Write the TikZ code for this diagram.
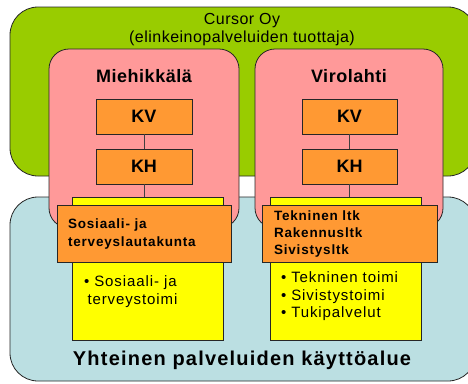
\documentclass[tikz,border=0pt]{standalone}
\usepackage{fontspec}
\setmainfont{Liberation Sans}
\newfontfamily\spaced[LetterSpace=6]{Liberation Sans}
\newfontfamily\lightspaced[LetterSpace=3]{Liberation Sans}
\definecolor{cursorgreen}{HTML}{99CC00}
\definecolor{kuntapink}{HTML}{FF9999}
\definecolor{alueblue}{HTML}{BBDFE2}
\definecolor{lautaorange}{HTML}{FF9933}
\definecolor{toimiyellow}{HTML}{FFFF00}
\begin{document}
\begin{tikzpicture}[x=1pt,y=-1pt,
  every node/.style={outer sep=0pt, inner sep=0pt},
  area/.style={draw=black!85, line width=0.8pt, rounded corners=28pt},
  kunta/.style={draw=black!85, line width=0.8pt, rounded corners=20pt, fill=kuntapink, minimum width=190pt, minimum height=179pt},
  organ/.style={draw=black!85, line width=0.8pt, fill=lautaorange, minimum width=96pt, minimum height=35pt, font=\fontsize{18}{20}\selectfont\bfseries},
  lauta/.style={draw=black!85, line width=0.8pt, fill=lautaorange, minimum width=175pt, minimum height=57pt},
  toimi/.style={draw=black!85, line width=0.8pt, fill=toimiyellow, minimum width=151pt, minimum height=143pt},
  link/.style={draw=black!75, line width=0.8pt}]
\clip (0,0) rectangle (468,383);
\useasboundingbox (0,0) rectangle (468,383);
% Background areas
\node[area, fill=cursorgreen, minimum width=466pt, minimum height=169pt] (cursor) at (243,91.5) {};
\node[area, fill=alueblue, minimum width=466pt, minimum height=184pt] (alue) at (243,289) {};
\node[font=\fontsize{16}{17}\selectfont\lightspaced] (cursortitle) at (242,21) {Cursor Oy};
\node[font=\fontsize{16}{17}\selectfont\lightspaced] (cursorsub) at (242,38) {(elinkeinopalveluiden tuottaja)};

% Municipalities
\node[kunta] (miehikkala) at (144,138.5) {};
\node[kunta, minimum width=188pt] (virolahti) at (349,138.5) {};
\node[font=\fontsize{18}{20}\selectfont\bfseries\lightspaced] (miehikkalatitle) at (144,76) {Miehikkälä};
\node[font=\fontsize{18}{20}\selectfont\bfseries\lightspaced] (virolahtititle) at (349,76) {Virolahti};

% Councils left and right
\node[organ] (kv1) at (144,116.5) {KV};
\node[organ] (kh1) at (144,166.5) {KH};
\node[organ, minimum width=95pt] (kv2) at (349.5,116.5) {KV};
\node[organ, minimum width=95pt] (kh2) at (349.5,166.5) {KH};

% Services
\node[toimi] (toimi1) at (147.5,268.5) {};
\node[toimi] (toimi2) at (345.5,268.5) {};
\draw[link] (kv1) -- (kh1);
\draw[link] (kh1.south) -- (kh1.south |- toimi1.north);
\draw[link] (kv2) -- (kh2);
\draw[link] (kh2.south) -- (kh2.south |- toimi2.north);

% Boards
\node[lauta, minimum width=174pt] (lauta1) at (144,233.5) {};
\node[lauta] (lauta2) at (349.5,233.5) {};
\node[anchor=west, align=left, font=\fontsize{13.5}{18}\selectfont\bfseries\spaced] (lauta1text) at (68,234) {Sosiaali- ja\\terveyslautakunta};
\node[anchor=west, align=left, font=\fontsize{13.5}{17}\selectfont\bfseries\spaced] (lauta2text) at (274,234) {Tekninen ltk\\Rakennusltk\\Sivistysltk};

% Service lists
\node[anchor=north west, align=left, font=\fontsize{15}{18}\selectfont\spaced] (toimi1text) at (84,276) {• Sosiaali- ja\\\hspace{3.5pt}terveystoimi};
\node[anchor=north west, align=left, font=\fontsize{15}{17.5}\selectfont\spaced] (toimi2text) at (281,272) {• Tekninen toimi\\• Sivistystoimi\\• Tukipalvelut};

\node[font=\fontsize{20}{22}\selectfont\bfseries\spaced] (aluetitle) at (242,360) {Yhteinen palveluiden käyttöalue};
\end{tikzpicture}
\end{document}
